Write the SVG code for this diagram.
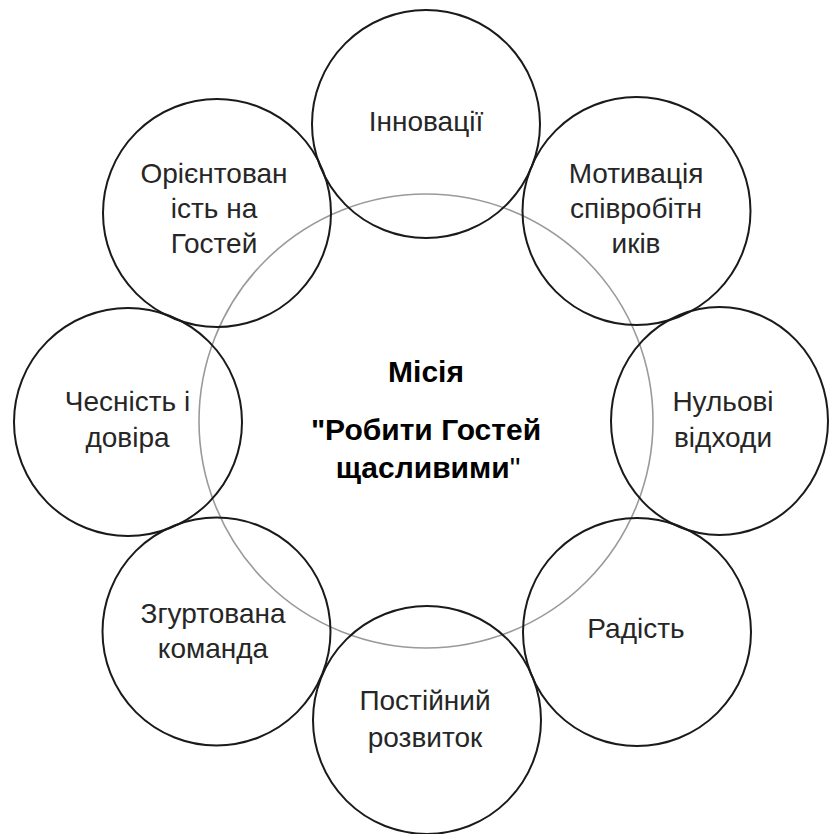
<svg xmlns="http://www.w3.org/2000/svg" width="829" height="834" viewBox="0 0 829 834">
<style>
.bg{fill:#ffffff}
.ring{fill:none;stroke:#1a1a1a;stroke-width:2}
.core{fill:none;stroke:#9a9a9a;stroke-width:1.6}
.lbl{font-family:"Liberation Sans",Arial,sans-serif;font-size:28px;fill:#262626;text-anchor:middle}
.mid{font-family:"Liberation Sans",Arial,sans-serif;font-size:30px;font-weight:bold;fill:#000;text-anchor:middle}
</style>
<rect class="bg" x="0" y="0" width="829" height="834"/>
<g id="mission">
<circle class="core" cx="426" cy="421" r="227"/>
<text class="mid" x="426" y="382">Місія</text>
<text class="mid" x="426" y="440">"Робити Гостей</text>
<text class="mid" x="428" y="478">щасливими<tspan font-weight="normal">"</tspan></text>
</g>
<g id="innovations">
<circle class="ring" cx="426" cy="124" r="114"/>
<text class="lbl" x="426" y="131">Інновації</text>
</g>
<g id="motivation">
<circle class="ring" cx="636.5" cy="211" r="114"/>
<text class="lbl" x="636" y="183">Мотивація</text>
<text class="lbl" x="636" y="218">співробітн</text>
<text class="lbl" x="636" y="253">иків</text>
</g>
<g id="zero-waste">
<ellipse class="ring" cx="719.5" cy="421" rx="108.5" ry="114"/>
<text class="lbl" x="723" y="411">Нульові</text>
<text class="lbl" x="723" y="447">відходи</text>
</g>
<g id="joy">
<circle class="ring" cx="637" cy="632" r="114"/>
<text class="lbl" x="636" y="638">Радість</text>
</g>
<g id="development">
<circle class="ring" cx="427" cy="720" r="114"/>
<text class="lbl" x="425" y="710">Постійний</text>
<text class="lbl" x="425" y="747">розвиток</text>
</g>
<g id="team">
<circle class="ring" cx="216.5" cy="631.5" r="114"/>
<text class="lbl" x="213" y="623">Згуртована</text>
<text class="lbl" x="213" y="658">команда</text>
</g>
<g id="honesty">
<circle class="ring" cx="128" cy="422" r="114"/>
<text class="lbl" x="127.5" y="411">Чесність і</text>
<text class="lbl" x="127.5" y="447">довіра</text>
</g>
<g id="guest-orientation">
<circle class="ring" cx="217" cy="213" r="114"/>
<text class="lbl" x="214" y="183">Орієнтован</text>
<text class="lbl" x="214" y="218">ість на</text>
<text class="lbl" x="214" y="253">Гостей</text>
</g>
</svg>
